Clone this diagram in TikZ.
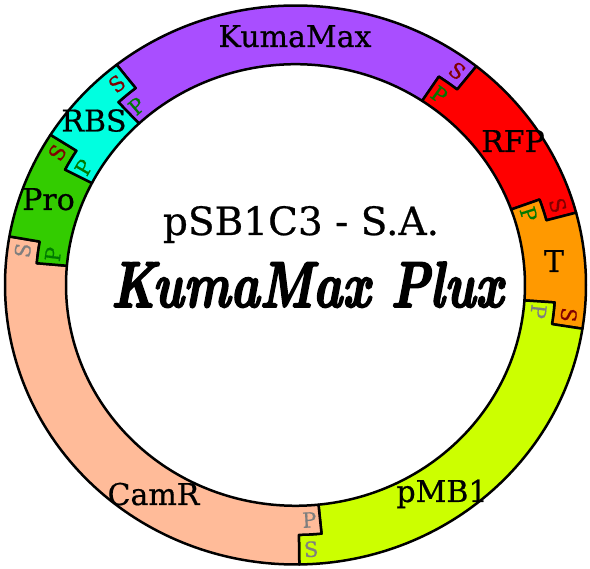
\documentclass[tikz,border=0pt]{standalone}
\usepackage{fontspec}
\usepackage{graphicx}
\newfontfamily\partfont{DejaVu Serif}[FakeBold=0.6]
\newfontfamily\constructfont{Latin Modern Roman}[UprightFont=*/BI, FakeBold=3]

\definecolor{kumacol}{HTML}{A94EFF}
\definecolor{rfpcol}{HTML}{FF0000}
\definecolor{termcol}{HTML}{FF9900}
\definecolor{oricol}{HTML}{CCFF00}
\definecolor{camcol}{HTML}{FFBB99}
\definecolor{procol}{HTML}{33CC00}
\definecolor{rbscol}{HTML}{00FFE0}
\definecolor{scol}{HTML}{800000}
\definecolor{pcol}{HTML}{007800}
\definecolor{bbcol}{HTML}{7F7F7F}

\tikzset{
  part/.style={draw=black, line width=2.5pt, line join=round},
  partname/.style={font=\partfont\fontsize{30}{32}\selectfont, anchor=base, inner sep=0pt},
  sitename/.style={font=\partfont\fontsize{21}{21}\selectfont, inner sep=0pt},
}

\newcommand{\ringmid}{0.894}
\newcommand{\ringin}{0.79}
% ring part: colour, start outer/inner angle, end outer/inner angle
\newcommand{\ringpart}[5]{%
  \filldraw[part, fill=#1] (#2:1) arc[start angle=#2, end angle=#4, radius=1]
    -- (#4:\ringmid) arc[start angle=#4, end angle=#5, radius=\ringmid]
    -- (#5:\ringin) arc[start angle=#5, end angle=#3, radius=\ringin]
    -- (#3:\ringmid) arc[start angle=#3, end angle=#2, radius=\ringmid] -- cycle;}
% S and P sites: name, angle, rotation, S colour, P colour
\newcommand{\sites}[5]{%
  \node[sitename, text=#4, rotate=#3] (#1s) at (#2:0.947) {S};
  \node[sitename, text=#5, rotate=#3] (#1p) at (#2:0.842) {P};}

\begin{document}
\begin{tikzpicture}[x=1pt,y=1pt]
  \useasboundingbox (0,0) rectangle (590,569);
  \begin{scope}[shift={(295.5pt,284pt)}, x=290.5pt, y=279.5pt]
    \ringpart{kumacol}{128}{133}{51.5}{56.5}
    \ringpart{rfpcol}{51.5}{56.5}{15}{20}
    \ringpart{termcol}{15}{20}{-9}{-4}
    \ringpart{oricol}{-9}{-4}{-89.25}{-84.25}
    \ringpart{camcol}{-89.25}{-84.25}{-190}{-185}
    \ringpart{procol}{170}{175}{147.5}{152.5}
    \ringpart{rbscol}{147.5}{152.5}{128}{133}
    \sites{rbskuma}{130.5}{40.5}{scol}{pcol}
    \sites{kumarfp}{54}{-36}{scol}{pcol}
    \sites{rfpterm}{17.5}{-72.5}{scol}{pcol}
    \sites{termori}{-6.5}{-96.5}{scol}{bbcol}
    \sites{oricam}{-86.75}{3.25}{bbcol}{bbcol}
    \sites{campro}{172.5}{82.5}{bbcol}{pcol}
    \sites{prorbs}{150}{60}{scol}{pcol}
  \end{scope}
  \node[partname] (kumamax) at (295,522) {KumaMax};
  \node[partname] (rfp) at (513,417) {RFP};
  \node[partname] (term) at (554,297) {T};
  \node[partname] (ori) at (442,67) {pMB1};
  \node[partname] (camr) at (153.5,64) {CamR};
  \node[partname] (pro) at (48.5,359) {Pro};
  \node[partname] (rbs) at (94,437.5) {RBS};
  \node[font=\partfont\fontsize{39}{41}\selectfont, anchor=base, inner sep=0pt] (plasmid) at (301,334) {pSB1C3 - S.A.};
  \node[anchor=base, inner sep=0pt] (construct) at (307,262) {\resizebox{392pt}{45pt}{\constructfont KumaMax Plux}};
\end{tikzpicture}
\end{document}
